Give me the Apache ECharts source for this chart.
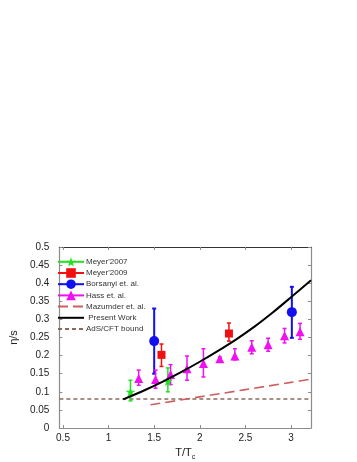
<!DOCTYPE html>
<html>
<head>
<meta charset="utf-8" />
<title>eta/s vs T/Tc</title>
<style type="text/css">
body,div{margin:0;padding:0;}
#chart{width:357px;height:462px;}
</style>
<script src="https://cdn.jsdelivr.net/npm/echarts@6/dist/echarts.min.js"></script>
</head>
<body>
<div id="chart"></div>
<script type="text/javascript">
// tick labels
var xTicks = [0.5, 1, 1.5, 2, 2.5, 3];

// Meyer'2007
var meyer07X = [1.24, 1.65];
var meyer07Y = [0.10, 0.13];
var meyer07Lo = [0.075, 0.10];
var meyer07Hi = [0.132, 0.166];

// Meyer'2009
var meyer09X = [1.58, 2.32];
var meyer09Y = [0.202, 0.261];
var meyer09Lo = [0.17, 0.24];
var meyer09Hi = [0.232, 0.29];

// Borsanyi et. al.
var borsX = [1.5, 3.01];
var borsY = [0.24, 0.32];
var borsLo = [0.15, 0.249];
var borsHi = [0.33, 0.39];

// Hass et. al.
var hassX = [1.33, 1.515, 1.68, 1.86, 2.04, 2.22, 2.385, 2.57, 2.75, 2.93, 3.1];
var hassY = [0.137, 0.134, 0.148, 0.164, 0.178, 0.191, 0.199, 0.223, 0.23, 0.255, 0.266];
var hassLo = [0.118, 0.11, 0.12, 0.132, 0.141, 0.186, 0.188, 0.205, 0.212, 0.235, 0.245];
var hassHi = [0.16, 0.16, 0.175, 0.199, 0.219, 0.196, 0.219, 0.241, 0.248, 0.275, 0.289];

// Mazumder et. al.
var mazX = [1.46, 2.0, 2.5, 3.0, 3.22];
var mazY = [0.064, 0.086, 0.106, 0.126, 0.135];

// Present Work
var workX = [1.16, 1.4, 1.6, 1.8, 2.0, 2.2, 2.4, 2.6, 2.8, 3.0, 3.22];
var workY = [0.079, 0.105, 0.129, 0.155, 0.183, 0.213, 0.245, 0.28, 0.319, 0.361, 0.408];

// AdS/CFT bound
var adsX = [0.46, 3.22];
var adsY = [0.08, 0.08];

var starPath = 'path://M50,0 L61,35 L98,35 L68,57 L79,91 L50,70 L21,91 L32,57 L2,35 L39,35 Z';

function pairs(xs, ys) {
    var out = [];
    for (var i = 0; i < xs.length; i++) out.push([xs[i], ys[i]]);
    return out;
}
function triples(xs, lo, hi) {
    var out = [];
    for (var i = 0; i < xs.length; i++) out.push([xs[i], lo[i], hi[i]]);
    return out;
}

function errorBars(xs, lo, hi, color, lw) {
    return {
        type: 'custom',
        data: triples(xs, lo, hi),
        encode: { x: 0, y: [1, 2] },
        z: 2,
        silent: true,
        renderItem: function (params, api) {
            var x = api.value(0);
            var a = api.coord([x, api.value(1)]);
            var b = api.coord([x, api.value(2)]);
            var st = { stroke: color, lineWidth: lw };
            return {
                type: 'group',
                children: [
                    { type: 'line', shape: { x1: a[0], y1: a[1], x2: b[0], y2: b[1] }, style: st },
                    { type: 'line', shape: { x1: a[0] - 2, y1: a[1], x2: a[0] + 2, y2: a[1] }, style: st },
                    { type: 'line', shape: { x1: b[0] - 2, y1: b[1], x2: b[0] + 2, y2: b[1] }, style: st }
                ]
            };
        }
    };
}

function markers(name, xs, ys, color, symbol, size) {
    return {
        name: name,
        type: 'line',
        data: pairs(xs, ys),
        symbol: symbol,
        symbolSize: size,
        showAllSymbol: true,
        itemStyle: { color: color },
        lineStyle: { color: color, width: 2, opacity: 0 },
        z: 3
    };
}

var chart = echarts.init(document.getElementById('chart'));

var axisGray = '#8c8c8c';
var option = {
    animation: false,
    backgroundColor: '#fff',
    textStyle: { fontFamily: 'Liberation Sans, Arial, sans-serif' },
    grid: { left: 46, right: 46, top: 247, bottom: 32 },
    legend: {
        orient: 'vertical',
        left: 52,
        top: 252,
        itemWidth: 26,
        itemHeight: 12,
        itemGap: 1.6,
        textStyle: { fontSize: 8, color: '#333', padding: [0, 0, 0, -3] },
        data: [
            { name: "Meyer'2007", lineStyle: { opacity: 1, width: 2, color: '#22e022' } },
            { name: "Meyer'2009", lineStyle: { opacity: 1, width: 2, color: '#f01010' } },
            { name: 'Borsanyi et. al.', lineStyle: { opacity: 1, width: 2, color: '#1010f0' } },
            { name: 'Hass et. al.', lineStyle: { opacity: 1, width: 2, color: '#f010f0' } },
            { name: 'Mazumder et. al.', itemStyle: { opacity: 0 } },
            { name: ' Present Work', itemStyle: { opacity: 0 } },
            { name: 'AdS/CFT bound', itemStyle: { opacity: 0 } }
        ]
    },
    xAxis: [{
        type: 'value',
        min: 0.46,
        max: 3.22,
        position: 'bottom',
        name: '{a|T/T}{b|c}',
        nameLocation: 'middle',
        nameGap: 17,
        nameTextStyle: {
            rich: {
                a: { fontSize: 11, color: '#222' },
                b: { fontSize: 7, color: '#222', padding: [9, 0, 0, 0] }
            }
        },
        axisLine: { onZero: false, lineStyle: { color: axisGray, width: 1.2 } },
        axisTick: { inside: true, length: 3, customValues: xTicks, lineStyle: { color: axisGray } },
        axisLabel: { customValues: xTicks, fontSize: 10, color: '#222', margin: 5 },
        splitLine: { show: false }
    }, {
        type: 'value',
        min: 0.46,
        max: 3.22,
        position: 'top',
        axisLine: { onZero: false, lineStyle: { color: '#333', width: 1.2 } },
        axisTick: { inside: true, length: 3, customValues: xTicks, lineStyle: { color: axisGray } },
        axisLabel: { show: false },
        splitLine: { show: false }
    }],
    yAxis: [{
        type: 'value',
        min: 0,
        max: 0.5,
        interval: 0.05,
        position: 'left',
        name: 'η/s',
        nameLocation: 'middle',
        nameGap: 35,
        nameRotate: 90,
        nameTextStyle: { fontSize: 11, color: '#222' },
        axisLine: { show: true, onZero: false, lineStyle: { color: axisGray, width: 1.2 } },
        axisTick: { show: true, inside: true, length: 3, lineStyle: { color: axisGray } },
        axisLabel: { fontSize: 10, color: '#222', margin: 10 },
        splitLine: { show: false }
    }, {
        type: 'value',
        min: 0,
        max: 0.5,
        interval: 0.05,
        position: 'right',
        axisLine: { show: true, onZero: false, lineStyle: { color: axisGray, width: 1.2 } },
        axisTick: { show: true, inside: true, length: 3, lineStyle: { color: axisGray } },
        axisLabel: { show: false },
        splitLine: { show: false }
    }],
    series: [
        {
            name: 'AdS/CFT bound',
            type: 'line',
            data: pairs(adsX, adsY),
            symbol: 'none',
            lineStyle: { color: '#8a6a60', width: 1.4, type: [4, 3] },
            itemStyle: { color: '#8a6a60' },
            z: 1
        },
        {
            name: 'Mazumder et. al.',
            type: 'line',
            data: pairs(mazX, mazY),
            symbol: 'none',
            smooth: 0.3,
            lineStyle: { color: '#cc6060', width: 1.6, type: [10, 5] },
            itemStyle: { color: '#cc6060' },
            z: 1
        },
        errorBars(meyer07X, meyer07Lo, meyer07Hi, '#22e022', 1.5),
        errorBars(meyer09X, meyer09Lo, meyer09Hi, '#f01010', 1.5),
        errorBars(borsX, borsLo, borsHi, '#1010f0', 2),
        errorBars(hassX, hassLo, hassHi, '#f010f0', 1.5),
        {
            name: ' Present Work',
            type: 'line',
            data: pairs(workX, workY),
            symbol: 'none',
            smooth: 0.3,
            lineStyle: { color: '#000', width: 2 },
            itemStyle: { color: '#000' },
            z: 4
        },
        markers("Meyer'2007", meyer07X, meyer07Y, '#22e022', starPath, 10),
        markers("Meyer'2009", meyer09X, meyer09Y, '#f01010', 'rect', 8),
        markers('Borsanyi et. al.', borsX, borsY, '#1010f0', 'circle', 10),
        markers('Hass et. al.', hassX, hassY, '#f010f0', 'triangle', 9)
    ]
};
chart.setOption(option);
</script>
</body>
</html>
